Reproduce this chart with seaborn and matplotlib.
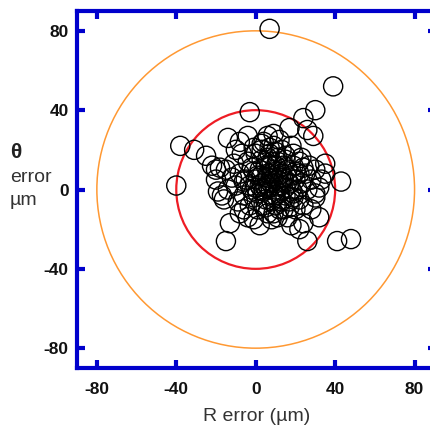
import matplotlib
matplotlib.use("Agg")
import matplotlib.pyplot as plt
from matplotlib.patches import Circle
import seaborn as sns
import pandas as pd

# (µm)
r_err = [7, 39, -3, 30, 24, 17, 29, 26, -14, -38, -31, -25, -4, 9, -40, 43, 41, 48,
         -15, 26, -13, 32, 24, 22, 11, -1, -4, -6, -18, -20, -19, -17, -11, 35, 35, 32,
         30, 19, 23, -1, 3, 7,
         0, 2, 4, 6, 8, 10, 12, 14, 16, 18, 20, 22, 5, 3, 7, 11, 15, 19, -2, -5,
         -8, -10, -6, -3, 1, 6, 10, 14, 17, 20, 24, 26, 25, 28, 27, 22, 13, 9,
         4, 0, -4, -7, -12, -14, -9, -1, 9, 13, 17, 21, 3, 6, 11, 8, 1, -3,
         15, 19, 23, 10, 12, 5, 16, 8, 2, -8, 18, 28, 30, -15, -22, -20, -16, 30,
         33, 6, 12, 18, -10, -8,
         7, 9, 11, 13, 5, 3, 9, 12, 15, 7, 4, 14, 18, 10, 6, 2, 16, 11, 8, 13,
         -1, 1, 20, 24, 17, 4, 8, 12, -6, -2, 0, 22, 15, 6, 10, 19, 3, 14, 9, 5]
th_err = [81, 52, 39, 40, 36, 31, 27, 30, 26, 22, 20, 17, 27, 28, 2, 4, -26, -25,
          -26, -26, -17, -14, -17, -20, -14, -15, -14, -10, 11, 10, -1, -3, 13, 13, 8, 1,
          -4, 18, 16, 21, 23, 21,
          5, 10, 0, 8, 3, 12, -2, 6, 10, 0, 5, -5, -5, 15, 18, 16, 15, 12, 0, 5,
          8, 2, -3, -8, -10, -12, -8, -10, -6, -10, -8, 0, 8, 5, 12, 14, 20, 22,
          24, 18, 14, 18, 6, 0, -6, -4, -4, 2, 3, 0, 3, 2, 5, 8, 7, 2,
          -3, -2, 3, 0, 9, 12, -14, -15, -18, -12, -18, -10, -2, 10, 12, 5, -5, 10,
          5, 27, 25, 22, 20, 24,
          4, 6, 2, 8, 1, 7, 10, 4, 1, 12, -1, 12, 7, -3, 6, 2, 4, 14, -6, -6,
          9, -2, 9, 11, -9, -8, 14, -10, 4, 11, 1, 8, 17, 16, 19, -4, 20, 5, -12, -9]

BLUE = "#0000cc"

df = pd.DataFrame({"r": r_err, "theta": th_err})

sns.set_style("white")
plt.rcParams["font.family"] = ["Liberation Sans", "DejaVu Sans"]

fig = plt.figure(figsize=(4.31, 4.25), dpi=100)
ax = fig.add_axes([77 / 431, 1 - 368 / 425, 359 / 431, 357 / 425])

ax.add_patch(Circle((0, 0), 80, fill=False, ec="#ff9933", lw=1.1, zorder=1))
ax.add_patch(Circle((0, 0), 40, fill=False, ec="#ee1c24", lw=1.6, zorder=1))

sns.scatterplot(data=df, x="r", y="theta", ax=ax, marker="o", s=190,
                facecolor="none", edgecolor="black", linewidth=1.0, zorder=2)

ax.set_xlim(-90, 90.8)
ax.set_ylim(-90, 90)
ticks = [-80, -40, 0, 40, 80]
ax.set_xticks(ticks)
ax.set_yticks(ticks)
ax.set_xticklabels([str(t) for t in ticks], fontweight="bold", fontsize=12.5, color="#111111")
ax.set_yticklabels([str(t) for t in ticks], fontweight="bold", fontsize=12.5, color="#111111")
ax.tick_params(direction="in", length=6, width=3, color=BLUE,
               top=True, right=True, bottom=True, left=True)
ax.tick_params(axis="x", pad=10)
ax.tick_params(axis="y", pad=6)
for t in ax.xaxis.get_major_ticks()[1:4]:
    t.tick2line.set_color("black")

for s in ax.spines.values():
    s.set_color(BLUE)
    s.set_linewidth(3)

ax.set_xlabel("R error (µm)", fontsize=14, color="#333333", labelpad=8)
ax.set_ylabel("")

fig.text(10 / 431, 1 - 153 / 425, "θ", fontsize=15, fontweight="bold",
         color="#222222", ha="left", va="center")
fig.text(10 / 431, 1 - 177 / 425, "error", fontsize=14, color="#333333",
         ha="left", va="center")
fig.text(10 / 431, 1 - 201 / 425, "µm", fontsize=14, color="#333333",
         ha="left", va="center")

fig.savefig("out.png", dpi=100)
plt.close(fig)
